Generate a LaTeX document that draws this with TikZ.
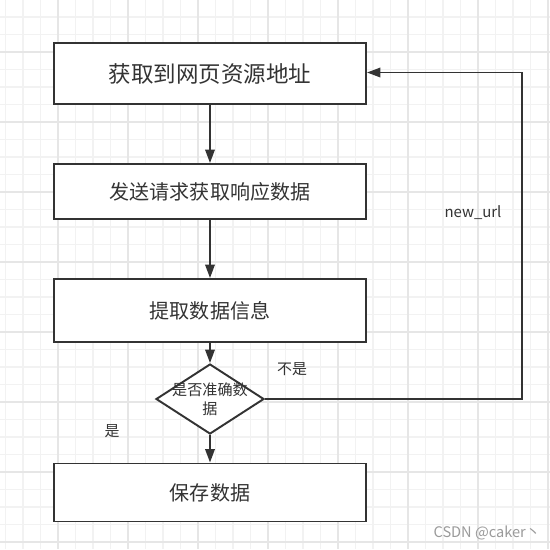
\documentclass[tikz,border=0pt]{standalone}
\usepackage{fontspec}
\setmainfont{Noto Sans CJK SC}
\usetikzlibrary{shapes.geometric,arrows.meta}

\definecolor{ink}{HTML}{333333}
\definecolor{gridminor}{HTML}{F2F2F2}
\definecolor{gridmajor}{HTML}{E6E6E6}
\definecolor{markgray}{HTML}{9A9A9A}

\tikzset{
  stepbox/.style={draw=ink, line width=1.1pt, fill=white, rectangle,
    minimum width=312*0.02cm, inner sep=0pt, text=ink},
  decision/.style={draw=ink, line width=1.1pt, fill=white, diamond,
    minimum width=108*0.02cm, minimum height=70*0.02cm, inner sep=0pt},
  flow/.style={draw=ink, line width=1.1pt,
    -{Triangle[length=0.27cm, width=0.19cm]}},
  lbl/.style={text=ink, font=\fontsize{8.5}{10}\selectfont, inner sep=0pt}
}

\begin{document}
\begin{tikzpicture}[x=0.02cm, y=-0.02cm]

                \useasboundingbox (0,0) rectangle (550,549);
                \fill[white] (0,0) rectangle (550,549);

                % background grid
                \foreach \gx in {0,...,31}
                    \draw[gridminor, line width=0.6pt] (5.5+17.5*\gx,0) -- (5.5+17.5*\gx,549);
                \foreach \gy in {0,...,31}
                    \draw[gridminor, line width=0.6pt] (0,-0.5+17.5*\gy) -- (550,-0.5+17.5*\gy);
                \foreach \gx in {0,...,7}
                    \draw[gridmajor, line width=0.8pt] (58+70*\gx,0) -- (58+70*\gx,549);
                \foreach \gy in {0,...,7}
                    \draw[gridmajor, line width=0.8pt] (0,52+70*\gy) -- (550,52+70*\gy);

                % steps
                \node[stepbox, minimum height=61*0.02cm, font=\fontsize{12.8}{15}\selectfont] (fetch) at (210,73.5) {获取到网页资源地址};
                \node[stepbox, minimum height=55*0.02cm, font=\fontsize{11.4}{14}\selectfont] (request) at (210,191.5) {发送请求获取响应数据};
                \node[stepbox, minimum height=63*0.02cm, font=\fontsize{11.4}{14}\selectfont] (extract) at (210,310.5) {提取数据信息};
                \node[decision] (check) at (210,399) {};
                \node[lbl, align=center, font=\fontsize{8.6}{11}\selectfont] (checktext) at (210,399) {是否准确数\\据};
                \node[stepbox, minimum height=58*0.02cm, font=\fontsize{11.4}{14}\selectfont] (save) at (210,492.5) {保存数据};

                \coordinate (turn low) at (522,399);
                \coordinate (turn high) at (522,72.5);

                % connectors
                \draw[flow] (fetch) -- (request);
                \draw[flow] (request) -- (extract);
                \draw[flow] (extract) -- (check);
                \draw[flow] (check) -- (save);
                \draw[flow] (check.east) -- (turn low) -- (turn high) -- (fetch.east |- turn high);

                \node[lbl] (nourl) at (473,213) {new\_url};
                \node[lbl] (notok) at (292,369) {不是};
                \node[lbl] (isok) at (112,431) {是};

                \node[text=markgray, font=\fontsize{8.3}{10}\selectfont, inner sep=0pt] (mark) at (487,533) {CSDN @caker丶};

\end{tikzpicture}
\end{document}
